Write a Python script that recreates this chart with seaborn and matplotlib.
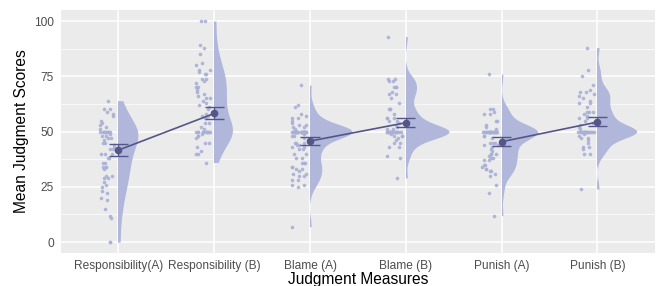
import numpy as np
import pandas as pd
import matplotlib
matplotlib.use("Agg")
import matplotlib.pyplot as plt
from matplotlib.ticker import MultipleLocator
from matplotlib.patches import Rectangle
import seaborn as sns

categories = ["Responsibility(A)", "Responsibility (B)", "Blame (A)",
              "Blame (B)", "Punish (A)", "Punish (B)"]
measure = ["Responsibility", "Responsibility", "Blame", "Blame", "Punish", "Punish"]

resp_a = [64, 60, 60, 59, 58, 57, 55, 54, 53, 52, 51,
          50, 50, 50, 50, 50, 50, 50, 50, 50, 50,
          49, 48, 48, 47, 47, 46, 45, 45, 44, 43, 42, 42,
          40, 40, 40, 38, 38, 36, 36, 34, 34, 34, 33,
          30, 30, 29, 29, 27, 26, 25, 23, 22, 20, 19, 15, 12, 11, 0, 0]
resp_b = [100, 100, 89, 88, 85, 81, 80, 78, 78, 77, 76, 76, 74, 74, 73, 72, 70, 70,
          70, 69, 68, 67, 66, 65, 65, 64, 63, 62, 61, 60, 58, 57, 57, 56, 56, 54, 54, 52,
          51, 50, 50, 50, 50, 50, 50, 50, 50, 50, 50, 50, 50, 49,
          48, 48, 47, 45, 45, 43, 41, 40, 40, 36]
blame_a = [71, 62, 61, 58, 57, 56, 56, 55, 54, 53, 53, 52, 52, 51,
           50, 50, 50, 50, 50, 50, 50, 50, 50, 50, 50, 50, 50, 50, 50,
           50, 50, 50, 50, 50, 50, 50, 50, 50, 50, 50, 50, 50, 50, 50,
           49, 48, 48, 47, 45, 45, 45, 44, 44, 43, 43, 42, 42, 40, 40, 38, 38,
           36, 36, 36, 34, 34, 33, 33, 32, 31, 31, 30, 30, 28, 28, 26, 26, 25, 7]
blame_b = [93, 74, 74, 73, 73, 70, 70, 70, 68, 67, 67, 65, 63, 60, 60, 60, 58,
           56, 56, 56, 55, 55, 54, 53, 52, 51, 51,
           50, 50, 50, 50, 50, 50, 50, 50, 50, 50, 50, 50, 50, 50,
           50, 50, 50, 50, 50, 50,
           49, 48, 48, 48, 47, 46, 45, 45, 43, 43, 39, 38, 29]
punish_a = [76, 60, 60, 59, 58, 58, 55, 55, 53, 52, 51,
            50, 50, 50, 50, 50, 50, 50, 50, 50, 50, 50, 50, 50, 50,
            50, 50, 50, 50, 50, 50, 50, 50,
            48, 48, 47, 45, 45, 45, 44, 44, 43, 42, 41, 40, 40, 40, 39, 38, 38,
            37, 37, 35, 35, 34, 33, 33, 32, 32, 31, 30, 26, 22, 12]
punish_b = [88, 78, 75, 71, 69, 68, 68, 67, 66, 65, 64, 63, 63, 61, 59, 59, 59,
            58, 57, 56, 56, 55, 54, 54, 53, 52, 51,
            50, 50, 50, 50, 50, 50, 50, 50, 50, 50, 50, 50, 50, 50,
            50, 50, 50,
            49, 48, 47, 47, 46, 45, 43, 43, 42, 40, 40, 24]

mean_scores = [41.6, 58.2, 45.7, 54.0, 45.4, 54.3]
err_low = [38.8, 55.7, 43.9, 52.2, 43.6, 52.5]
err_high = [44.3, 61.2, 47.6, 56.0, 47.4, 56.4]

y_ticks = [0, 25, 50, 75, 100]

groups = [resp_a, resp_b, blame_a, blame_b, punish_a, punish_b]

rows = []
for i, vals in enumerate(groups):
    for v in vals:
        rows.append({"pos": i, "xpt": i - 0.12, "score": v})
df = pd.DataFrame(rows)

mdf = pd.DataFrame({"pos": range(len(categories)), "mean": mean_scores,
                    "lo": err_low, "hi": err_high, "measure": measure})

VCOL = "#B0B7DB"
PCOL = "#A9B0D6"
DARK = "#55558A"

sns.set_theme(style="darkgrid")
plt.rcParams["font.family"] = ["Liberation Sans", "DejaVu Sans"]
plt.rcParams["axes.facecolor"] = "#EBEBEB"

fig = plt.figure(figsize=(6.57, 2.86), dpi=100)
ax = fig.add_axes([0.0928, 0.115, 0.904, 0.85])
ax.set_facecolor("#EBEBEB")


def nrd0(kde):
    # R's bw.nrd0 with a small floor so heavily tied data stays smooth
    d = np.asarray(kde.dataset[0], dtype=float)
    sd = d.std(ddof=1)
    q75, q25 = np.percentile(d, [75, 25])
    lo = min(sd, (q75 - q25) / 1.34)
    if lo <= 0:
        lo = sd
    bw = max(0.9 * lo * len(d) ** -0.2, 2.6)
    return bw / sd


np.random.seed(3)
n_before = len(ax.collections)
sns.violinplot(data=df, x="pos", y="score", native_scale=True, inner=None, cut=0,
               density_norm="area", bw_method=nrd0, width=0.9, gridsize=300,
               color=VCOL, saturation=1, linewidth=0, ax=ax)
# keep only the right half of each violin (flat violin)
vcols = ax.collections[n_before:]
for i, coll in enumerate(vcols):
    clip = Rectangle((i, -50), 1.0, 200, transform=ax.transData)
    coll.set_clip_path(clip)

sns.stripplot(data=df, x="xpt", y="score", native_scale=True, jitter=0.08,
              size=2.6, color=PCOL, linewidth=0, alpha=0.9, ax=ax, zorder=3)

ax.vlines(mdf["pos"], mdf["lo"], mdf["hi"], color=DARK, lw=1.0, zorder=4)
ax.hlines(mdf["lo"], mdf["pos"] - 0.1, mdf["pos"] + 0.1, color=DARK, lw=1.0, zorder=4)
ax.hlines(mdf["hi"], mdf["pos"] - 0.1, mdf["pos"] + 0.1, color=DARK, lw=1.0, zorder=4)

sns.lineplot(data=mdf, x="pos", y="mean", units="measure", estimator=None,
             color=DARK, lw=1.2, marker="o", markersize=5.5, markeredgewidth=0,
             ax=ax, zorder=5)

ax.set_xlim(-0.6, 5.6)
ax.set_ylim(-5, 105)
ax.set_xticks(range(len(categories)))
ax.set_xticklabels(categories)
ax.set_yticks(y_ticks)
ax.set_yticklabels([str(t) for t in y_ticks])
ax.yaxis.set_minor_locator(MultipleLocator(12.5))
ax.grid(which="major", color="white", lw=1.1)
ax.grid(which="minor", axis="y", color="white", lw=0.5)
ax.grid(which="minor", axis="x", visible=False)
ax.set_axisbelow(True)
for s in ax.spines.values():
    s.set_visible(False)
ax.tick_params(axis="both", which="major", length=3, width=0.8, color="#333333",
               labelsize=8.6, labelcolor="#4D4D4D", pad=2)
ax.tick_params(axis="y", which="minor", length=0)
ax.set_xlabel("Judgment Measures", fontsize=11.2, color="black", labelpad=0)
ax.set_ylabel("Mean Judgment Scores", fontsize=11.2, color="black", labelpad=4)

fig.savefig("out.png", dpi=100, facecolor="white")
